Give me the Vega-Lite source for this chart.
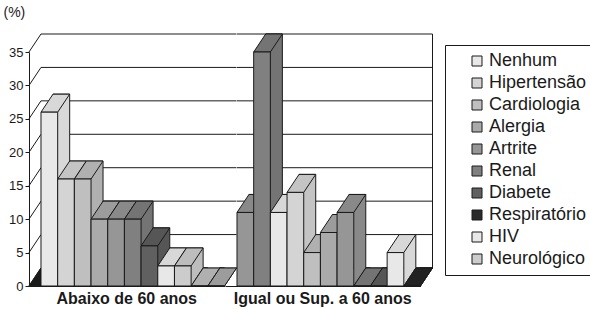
{
  "$schema": "https://vega.github.io/schema/vega-lite/v6.json",
  "autosize": {"type": "pad"},
  "bounds": "flush",
  "padding": {"left": 3, "top": 5, "right": 0, "bottom": 0},
  "background": "white",
  "config": {
    "view": {"stroke": null},
    "font": "Liberation Sans",
    "axisY": {"grid": false, "tickCount": 8, "domainColor": "#1a1a1a", "tickColor": "#1a1a1a", "tickSize": 4, "labelFontSize": 13, "labelColor": "#1a1a1a", "labelPadding": 2, "titleAngle": 0, "titleAlign": "left", "titleBaseline": "middle", "titleX": -26, "titleY": -40, "titleFontWeight": "normal", "titleFontSize": 14, "titleColor": "#1a1a1a"},
    "axisX": {"labels": false, "ticks": false, "domainColor": "#1a1a1a", "grid": false},
    "legend": {"symbolType": "square", "symbolSize": 100, "symbolStrokeColor": "#1a1a1a", "symbolStrokeWidth": 1, "labelFontSize": 18, "labelColor": "#1a1a1a", "rowPadding": 4, "strokeColor": "#1a1a1a", "fillColor": "white", "padding": 7, "symbolOffset": 16, "labelOffset": 3}
  },
  "data": {
    "values": [
      {"grupo": "Abaixo de 60 anos", "slot": 1, "serie": "Nenhum", "v": 26},
      {"grupo": "Abaixo de 60 anos", "slot": 2, "serie": "Hipertensão", "v": 16},
      {"grupo": "Abaixo de 60 anos", "slot": 3, "serie": "Cardiologia", "v": 16},
      {"grupo": "Abaixo de 60 anos", "slot": 4, "serie": "Alergia", "v": 10},
      {"grupo": "Abaixo de 60 anos", "slot": 5, "serie": "Artrite", "v": 10},
      {"grupo": "Abaixo de 60 anos", "slot": 6, "serie": "Renal", "v": 10},
      {"grupo": "Abaixo de 60 anos", "slot": 7, "serie": "Diabete", "v": 6},
      {"grupo": "Abaixo de 60 anos", "slot": 8, "serie": "HIV", "v": 3},
      {"grupo": "Abaixo de 60 anos", "slot": 9, "serie": "Neurológico", "v": 3},
      {"grupo": "Abaixo de 60 anos", "slot": 10, "serie": "Cardiologia", "v": 0},
      {"grupo": "Abaixo de 60 anos", "slot": 11, "serie": "Alergia", "v": 0},
      {"grupo": "Igual ou Sup. a 60 anos", "slot": 1, "serie": "Artrite", "v": 11},
      {"grupo": "Igual ou Sup. a 60 anos", "slot": 2, "serie": "Renal", "v": 35},
      {"grupo": "Igual ou Sup. a 60 anos", "slot": 3, "serie": "Nenhum", "v": 11},
      {"grupo": "Igual ou Sup. a 60 anos", "slot": 4, "serie": "Hipertensão", "v": 14},
      {"grupo": "Igual ou Sup. a 60 anos", "slot": 5, "serie": "Cardiologia", "v": 5},
      {"grupo": "Igual ou Sup. a 60 anos", "slot": 6, "serie": "Alergia", "v": 8},
      {"grupo": "Igual ou Sup. a 60 anos", "slot": 7, "serie": "Artrite", "v": 11},
      {"grupo": "Igual ou Sup. a 60 anos", "slot": 8, "serie": "Renal", "v": 0},
      {"grupo": "Igual ou Sup. a 60 anos", "slot": 9, "serie": "Diabete", "v": 0},
      {"grupo": "Igual ou Sup. a 60 anos", "slot": 10, "serie": "HIV", "v": 5},
      {"grupo": "Igual ou Sup. a 60 anos", "slot": 11, "serie": "Respiratório", "v": 0},
      {"grupo": "Abaixo de 60 anos", "slot": 1, "grade": 0},
      {"grupo": "Abaixo de 60 anos", "slot": 1, "grade": 5},
      {"grupo": "Abaixo de 60 anos", "slot": 1, "grade": 10},
      {"grupo": "Abaixo de 60 anos", "slot": 1, "grade": 15},
      {"grupo": "Abaixo de 60 anos", "slot": 1, "grade": 20},
      {"grupo": "Abaixo de 60 anos", "slot": 1, "grade": 25},
      {"grupo": "Abaixo de 60 anos", "slot": 1, "grade": 30},
      {"grupo": "Abaixo de 60 anos", "slot": 1, "grade": 35},
      {"grupo": "Igual ou Sup. a 60 anos", "slot": 1, "grade": 0},
      {"grupo": "Igual ou Sup. a 60 anos", "slot": 1, "grade": 5},
      {"grupo": "Igual ou Sup. a 60 anos", "slot": 1, "grade": 10},
      {"grupo": "Igual ou Sup. a 60 anos", "slot": 1, "grade": 15},
      {"grupo": "Igual ou Sup. a 60 anos", "slot": 1, "grade": 20},
      {"grupo": "Igual ou Sup. a 60 anos", "slot": 1, "grade": 25},
      {"grupo": "Igual ou Sup. a 60 anos", "slot": 1, "grade": 30},
      {"grupo": "Igual ou Sup. a 60 anos", "slot": 1, "grade": 35},
      {"grupo": "Igual ou Sup. a 60 anos", "slot": 11, "topo": 35}
    ]
  },
  "facet": {
    "column": {
      "field": "grupo", "type": "nominal",
      "header": {"title": null, "labelOrient": "bottom", "labelFontWeight": "bold", "labelFontSize": 16, "labelPadding": 5, "labelColor": "#1a1a1a", "labelFont": "Liberation Sans"}
    }
  },
  "spacing": 0,
  "spec": {
    "width": 195.5,
    "height": 234,
    "layer": [
      {
        "transform": [{"filter": "isValid(datum.grade)"}],
        "mark": {"type": "point", "shape": "M0,-18L195.5,-18", "size": 4, "filled": false, "stroke": "#1a1a1a", "strokeWidth": 1, "opacity": 1},
        "encoding": {
          "x": {"field": "slot", "type": "ordinal", "bandPosition": 0, "title": null, "scale": {"paddingInner": 0, "paddingOuter": 0.35966, "align": 1}},
          "y": {"field": "grade", "type": "quantitative", "title": "(%)", "scale": {"domain": [0, 35], "nice": false}}
        }
      },
      {
        "transform": [{"filter": "isValid(datum.topo)"}],
        "mark": {"type": "point", "shape": "M12,-18L12,216", "size": 4, "filled": false, "stroke": "#1a1a1a", "strokeWidth": 1, "opacity": 1},
        "encoding": {
          "x": {"field": "slot", "type": "ordinal", "bandPosition": 1, "title": null},
          "y": {"field": "topo", "type": "quantitative", "title": "(%)"}
        }
      },
      {
        "transform": [{"filter": "isValid(datum.grade) && datum.grupo == 'Abaixo de 60 anos'"}],
        "mark": {"type": "point", "shape": "M-12,0L0,-18", "size": 4, "filled": false, "stroke": "#1a1a1a", "strokeWidth": 1, "opacity": 1},
        "encoding": {
          "x": {"field": "slot", "type": "ordinal", "bandPosition": 0, "title": null},
          "y": {"field": "grade", "type": "quantitative", "title": "(%)"}
        }
      },
      {
        "transform": [{"filter": "datum.grade === 0 && datum.grupo == 'Abaixo de 60 anos'"}],
        "mark": {"type": "point", "shape": "M-12,0L0,0L0,-18Z", "size": 4, "filled": true, "fill": "#1a1a1a", "stroke": "#1a1a1a", "strokeWidth": 1, "opacity": 1},
        "encoding": {
          "x": {"field": "slot", "type": "ordinal", "bandPosition": 0, "title": null},
          "y": {"field": "grade", "type": "quantitative", "title": "(%)"}
        }
      },
      {
        "transform": [{"filter": "isValid(datum.v)"}, {"calculate": "datum.serie", "as": "face"}],
        "mark": {"type": "bar", "xOffset": 12, "yOffset": -18, "y2Offset": -18, "stroke": "#1a1a1a", "strokeWidth": 1},
        "encoding": {
          "x": {"field": "slot", "type": "ordinal", "title": null},
          "y": {"field": "v", "type": "quantitative", "title": "(%)"},
          "fill": {"field": "face", "type": "nominal", "legend": null, "scale": {"domain": ["Alergia", "Artrite", "Cardiologia", "Diabete", "HIV", "Hipertensão", "Nenhum", "Neurológico", "Renal", "Respiratório"], "range": ["#9c9c9c", "#898989", "#b0b0b0", "#565656", "#d8d8d8", "#c4c4c4", "#d8d8d8", "#bdbdbd", "#747474", "#222222"]}}
        }
      },
      {
        "transform": [{"filter": "isValid(datum.v)"}, {"calculate": "datum.serie", "as": "face"}],
        "mark": {"type": "point", "shape": "M8.341,0L8.341,-19L19.841,-19L19.841,-17.25Z", "size": 4, "filled": true, "strokeWidth": 0, "opacity": 1},
        "encoding": {
          "x": {"field": "slot", "type": "ordinal", "title": null},
          "y": {"datum": 0, "type": "quantitative", "title": "(%)"},
          "fill": {"field": "face", "type": "nominal", "legend": null}
        }
      },
      {
        "transform": [{"filter": "isValid(datum.v)"}],
        "mark": {"type": "point", "shape": "M8.341,0L20.341,-18", "size": 4, "filled": false, "stroke": "#1a1a1a", "strokeWidth": 1, "opacity": 1},
        "encoding": {
          "x": {"field": "slot", "type": "ordinal", "title": null},
          "y": {"datum": 0, "type": "quantitative", "title": "(%)"}
        }
      },
      {
        "transform": [{"filter": "isValid(datum.v)"}, {"calculate": "datum.serie", "as": "face"}],
        "mark": {"type": "point", "shape": "M-8.341,0L8.341,0L20.341,-18L3.659,-18Z", "size": 4, "filled": true, "stroke": "#1a1a1a", "strokeWidth": 1, "opacity": 1},
        "encoding": {
          "x": {"field": "slot", "type": "ordinal", "title": null},
          "y": {"field": "v", "type": "quantitative", "title": "(%)"},
          "fill": {"field": "face", "type": "nominal", "legend": null}
        }
      },
      {
        "transform": [{"filter": "isValid(datum.v)"}],
        "mark": {"type": "bar", "stroke": "#1a1a1a", "strokeWidth": 1},
        "encoding": {
          "x": {"field": "slot", "type": "ordinal", "title": null},
          "y": {"field": "v", "type": "quantitative", "title": "(%)"},
          "color": {"field": "serie", "type": "nominal", "scale": {"domain": ["Nenhum", "Hipertensão", "Cardiologia", "Alergia", "Artrite", "Renal", "Diabete", "Respiratório", "HIV", "Neurológico"], "range": ["#e8e8e8", "#d4d4d4", "#bfbfbf", "#aaaaaa", "#969696", "#808080", "#606060", "#2a2a2a", "#e8e8e8", "#cccccc"]}, "legend": {"orient": "none", "legendX": 416, "legendY": -7, "title": null}}
        }
      }
    ]
  }
}
